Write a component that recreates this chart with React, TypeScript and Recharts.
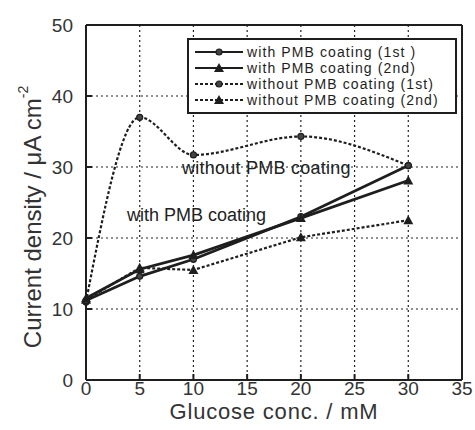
import React from "react";
import { CartesianGrid, Line, LineChart, ReferenceLine, XAxis, YAxis } from "recharts";

const glucose = [0, 5, 10, 20, 30];
const withFirst = [11.2, 14.6, 17.0, 23.0, 30.2];
const withSecond = [11.5, 15.6, 17.6, 22.8, 28.1];
const withoutFirst = [11.0, 37.0, 31.7, 34.3, 30.2];
const withoutSecond = [11.3, 15.8, 15.5, 20.1, 22.5];
const xTicks = [0, 5, 10, 15, 20, 25, 30, 35];
const yTicks = [0, 10, 20, 30, 40, 50];

const data = glucose.map((g, i) => ({
    g,
    w1: withFirst[i],
    w2: withSecond[i],
    o1: withoutFirst[i],
    o2: withoutSecond[i],
}));

const INK = "#1e1e1e";
const FONT = "'Liberation Sans', Arial, sans-serif";

const Circle = (props: any) => {
    const { cx, cy } = props;
    if (cx == null || cy == null) return null;
    return <circle cx={cx} cy={cy} r={3} fill="#444" stroke={INK} strokeWidth={1.2} />;
};

const Triangle = (props: any) => {
    const { cx, cy } = props;
    if (cx == null || cy == null) return null;
    const s = 5;
    return <polygon points={`${cx},${cy - s} ${cx - s},${cy + s * 0.8} ${cx + s},${cy + s * 0.8}`} fill={INK} />;
};

const series = [
    { key: "w1", name: "with PMB coating (1st )", dash: undefined, shape: "circle" },
    { key: "w2", name: "with PMB coating (2nd)", dash: undefined, shape: "tri" },
    { key: "o1", name: "without PMB coating (1st)", dash: "3 2", shape: "circle" },
    { key: "o2", name: "without PMB coating (2nd)", dash: "3 2", shape: "tri" },
];

function LegendBox() {
    return (
        <div
            style={{
                position: "absolute",
                left: 187,
                top: 38,
                width: 270,
                boxSizing: "border-box",
                border: `2px solid ${INK}`,
                background: "#fff",
                padding: "4px 4px 4px 4px",
                fontFamily: FONT,
                fontSize: 14,
                letterSpacing: 1.1,
                color: INK,
                lineHeight: "16px",
            }}
        >
            {series.map((s) => (
                <div key={s.key} style={{ display: "flex", alignItems: "center", height: 16, whiteSpace: "nowrap" }}>
                    <svg width={52} height={12} style={{ marginRight: 2, flexShrink: 0 }}>
                        <line x1={2} y1={6} x2={50} y2={6} stroke={INK} strokeWidth={s.dash ? 1.8 : 2.2} strokeDasharray={s.dash} />
                        {s.shape === "circle" ? <Circle cx={26} cy={6} /> : <Triangle cx={26} cy={6} />}
                    </svg>
                    <span>{s.name}</span>
                </div>
            ))}
        </div>
    );
}

const YLabel = () => {
    return (
        <text
            x={32}
            y={217}
            transform="rotate(-90 32 217)"
            textAnchor="middle"
            dominantBaseline="central"
            fontFamily={FONT}
            fontSize={24}
            fill="#333"
        >
            Current density / μA cm
            <tspan dy={-9} fontSize={14}>-2</tspan>
        </text>
    );
};

const tickStyle = { fill: "#333", fontSize: 19, fontFamily: FONT };

export default function App() {
    return (
        <div style={{ position: "absolute", left: 0, top: 0, width: 475, height: 430, background: "#fff" }}>
            <LineChart width={475} height={430} data={data} margin={{ top: 25, right: 13, left: 0, bottom: 0 }}>
                <CartesianGrid stroke="#222" strokeWidth={1.2} strokeDasharray="2 3" />
                <XAxis
                    type="number"
                    dataKey="g"
                    domain={[0, 35]}
                    ticks={xTicks}
                    interval={0}
                    height={50}
                    stroke={INK}
                    strokeWidth={2}
                    tickSize={-6}
                    tickMargin={8}
                    tick={tickStyle}
                    label={{ value: "Glucose conc. / mM", position: "insideBottom", offset: 11, fill: "#333", fontSize: 22, fontFamily: FONT, letterSpacing: 0.8 }}
                />
                <YAxis
                    type="number"
                    domain={[0, 50]}
                    ticks={yTicks}
                    interval={0}
                    width={86}
                    stroke={INK}
                    strokeWidth={2}
                    tickSize={-6}
                    tickMargin={19}
                    tick={tickStyle}
                    label={<YLabel />}
                />
                <ReferenceLine y={50} stroke={INK} strokeWidth={2} />
                <ReferenceLine x={35} stroke={INK} strokeWidth={2} />
                <Line dataKey="o1" name={series[2].name} type="monotone" stroke={INK} strokeWidth={2.2} strokeDasharray="3 2" dot={<Circle />} isAnimationActive={false} />
                <Line dataKey="o2" name={series[3].name} type="linear" stroke={INK} strokeWidth={2.2} strokeDasharray="3 2" dot={<Triangle />} isAnimationActive={false} />
                <Line dataKey="w1" name={series[0].name} type="linear" stroke={INK} strokeWidth={2.8} dot={<Circle />} isAnimationActive={false} />
                <Line dataKey="w2" name={series[1].name} type="linear" stroke={INK} strokeWidth={2.8} dot={<Triangle />} isAnimationActive={false} />
            </LineChart>
            <LegendBox />
            <div style={{ position: "absolute", left: 182, top: 158, fontFamily: FONT, fontSize: 18, letterSpacing: 0.25, color: "#222", whiteSpace: "nowrap" }}>
                without PMB coating
            </div>
            <div style={{ position: "absolute", left: 127, top: 205, fontFamily: FONT, fontSize: 18, color: "#222", whiteSpace: "nowrap" }}>
                with PMB coating
            </div>
        </div>
    );
}
